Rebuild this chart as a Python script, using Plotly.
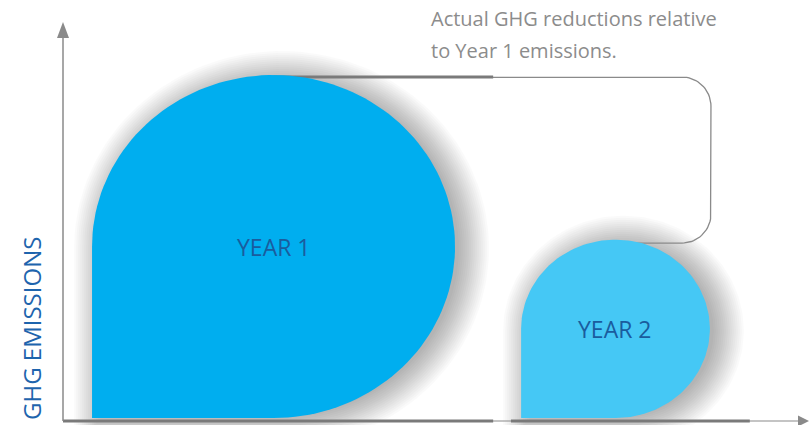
import numpy as np
import plotly.graph_objects as go

# ---------------- data ----------------
years = ["YEAR 1", "YEAR 2"]
emissions = [100, 52]          # relative GHG emissions (Year 1 = 100)
bar_colors = ["#00AEEF", "#45C8F5"]
y_axis_title = "GHG EMISSIONS"
note_lines = ["Actual GHG reductions relative", "to Year 1 emissions."]

# ---------------- layout constants ----------------
W, H = 811, 425
PX_X, PX_Y = 3.63, 3.43        # pixels per data unit
X0_PX, Y0_PX = 63, 418         # pixel of data origin
x_range = [-X0_PX / PX_X, (W - X0_PX) / PX_X]
y_range = [-(H - Y0_PX) / PX_Y, Y0_PX / PX_Y]
first_offset = 8.0
gap = 18.2

def ux(px):  # pixel distance -> x units
    return px / PX_X

def uy(px):
    return px / PX_Y

def drop(x0, w, h, grow_x=0.0, grow_y=0.0, dx=0.0, dy=0.0, n=120):
    rx, ry = w / 2 + grow_x, h / 2 + grow_y
    cx, cy = x0 + w / 2 + dx, h / 2 + dy
    t = np.linspace(np.pi, -np.pi / 2, n)
    xs = list(cx + rx * np.cos(t)) + [cx - rx, cx - rx]
    ys = list(cy + ry * np.sin(t)) + [cy - ry, cy]
    return xs, ys

fig = go.Figure()

lefts = []
pos = first_offset
for v in emissions:
    lefts.append(pos)
    pos += v + gap
rights = [l + v for l, v in zip(lefts, emissions)]
centers = [l + v / 2 for l, v in zip(lefts, emissions)]

# soft shadows
for l, v in zip(lefts, emissions):
    for r in range(-4, 28, 2):
        xs, ys = drop(l, v, v, ux(r), uy(r), ux(8), -uy(2))
        fig.add_trace(go.Scatter(x=xs, y=ys, fill="toself", mode="lines",
                                 line=dict(width=0), fillcolor="rgba(0,0,0,0.02)",
                                 hoverinfo="skip"))

gray = "#8a8a8a"
dark = "#7a7a7a"

# bracket line connecting year 1 top to year 2 top
xb = rights[1] + 0.3
yt = emissions[0] - 0.6
ybt = emissions[1] - 1.0
rcx, rcy = ux(29), uy(29)
bx, by = [centers[0], xb - rcx], [yt, yt]
t = np.linspace(np.pi / 2, 0, 20)
bx += list(xb - rcx + rcx * np.cos(t)); by += list(yt - rcy + rcy * np.sin(t))
t = np.linspace(0, -np.pi / 2, 20)
bx += list(xb - rcx + rcx * np.cos(t)); by += list(ybt + rcy + rcy * np.sin(t))
bx += [centers[1]]; by += [ybt]
fig.add_trace(go.Scatter(x=bx, y=by, mode="lines", line=dict(color=gray, width=1.3),
                         hoverinfo="skip"))
fig.add_trace(go.Scatter(x=[centers[0], rights[0] + 10.5], y=[yt, yt], mode="lines",
                         line=dict(color=dark, width=3), hoverinfo="skip"))

# x axis
ax_y = -uy(3)
fig.add_trace(go.Scatter(x=[0, x_range[1] - ux(10)], y=[ax_y, ax_y], mode="lines",
                         line=dict(color=gray, width=1.2), hoverinfo="skip"))
fig.add_trace(go.Scatter(x=[0, rights[0] + 10.5], y=[ax_y, ax_y], mode="lines",
                         line=dict(color=dark, width=3), hoverinfo="skip"))
fig.add_trace(go.Scatter(x=[lefts[1] - 2.8, rights[1] + 11], y=[ax_y, ax_y], mode="lines",
                         line=dict(color=dark, width=3), hoverinfo="skip"))
fig.add_trace(go.Scatter(x=[x_range[1] - ux(13), x_range[1] - ux(13), x_range[1] - ux(2), x_range[1] - ux(13)],
                         y=[ax_y + uy(5.5), ax_y - uy(5.5), ax_y, ax_y + uy(5.5)],
                         fill="toself", mode="lines", line=dict(width=0), fillcolor=gray,
                         hoverinfo="skip"))
# y axis
fig.add_trace(go.Scatter(x=[0, 0], y=[ax_y, uy(Y0_PX - 36)], mode="lines",
                         line=dict(color=gray, width=1.5), hoverinfo="skip"))
fig.add_trace(go.Scatter(x=[-ux(6), ux(6), 0, -ux(6)],
                         y=[uy(Y0_PX - 38)] * 2 + [uy(Y0_PX - 22), uy(Y0_PX - 38)],
                         fill="toself", mode="lines", line=dict(width=0), fillcolor=gray,
                         hoverinfo="skip"))

# drops
for l, v, c, name, cx in zip(lefts, emissions, bar_colors, years, centers):
    xs, ys = drop(l, v, v)
    fig.add_trace(go.Scatter(x=xs, y=ys, fill="toself", mode="lines",
                             line=dict(width=0), fillcolor=c, hoverinfo="skip"))
    fig.add_annotation(x=cx, y=v / 2, text=name, showarrow=False,
                       font=dict(family="Open Sans", size=23, color="#1a5c9e"))

fig.add_annotation(xref="paper", yref="paper", x=31 / W, y=1 - 329 / H,
                   xanchor="center", yanchor="middle",
                   text=y_axis_title, textangle=-90, showarrow=False,
                   font=dict(family="Open Sans", size=24, color="#1e64ad"))
for i, line in enumerate(note_lines):
    fig.add_annotation(xref="paper", yref="paper", x=429 / W, y=1 - (19 + 31 * i) / H,
                       xanchor="left", yanchor="middle", text=line, showarrow=False,
                       font=dict(family="Open Sans", size=20, color="#8c8c8c"))

fig.update_layout(width=W, height=H, margin=dict(l=0, r=0, t=0, b=0),
                  paper_bgcolor="white", plot_bgcolor="white", showlegend=False,
                  xaxis=dict(range=x_range, visible=False, fixedrange=True),
                  yaxis=dict(range=y_range, visible=False, fixedrange=True))
fig.write_html("out.html")
